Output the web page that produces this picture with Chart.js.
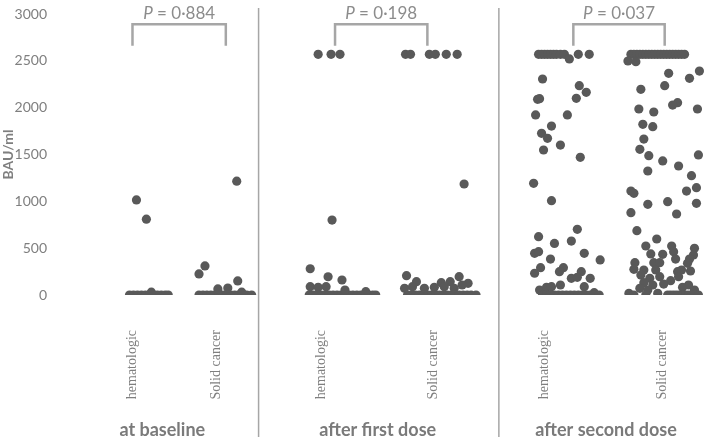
<!DOCTYPE html>
<html>
<head>
<meta charset="utf-8">
<script src="https://cdn.jsdelivr.net/npm/chart.js@4/dist/chart.umd.min.js"></script>
<style>
  html, body { margin: 0; padding: 0; background: #fff; }
  canvas { display: block; }
</style>
</head>
<body>
<canvas id="chart" width="709" height="442"></canvas>
<script>
// --- categories / groups ---
const categories = ["hematologic", "Solid cancer", "hematologic", "Solid cancer", "hematologic", "Solid cancer"];
const categoryX = [0.73, 1.57, 2.63, 3.76, 4.88, 6.07];
const groupTitles = ["at baseline", "after first dose", "after second dose"];
const groupTitleX = [1.03, 3.20, 5.50];
const separatorX = [2.00, 4.42];

// --- P value brackets ---
const pValues = ["0·884", "0·198", "0·037"];
const bracketFrom = [0.73, 2.77, 5.17];
const bracketTo = [1.67, 3.70, 6.09];
const bracketTop = 2890;
const bracketFoot = 2660;
const pLabelY = 3010;

// --- y axis ---
const yMin = 0;
const yMax = 3000;
const yStep = 500;

// --- points [x, BAU/ml] ---
const baseHem = [
  [0.70, 0], [0.74, 0], [0.78, 0], [0.82, 0], [0.86, 0], [0.90, 0], [0.94, 0], [0.98, 0],
  [1.02, 0], [1.06, 0], [1.09, 0], [0.92, 30], [0.77, 1015], [0.87, 810]
];
const baseSolid = [
  [1.40, 0], [1.44, 0], [1.48, 0], [1.52, 0], [1.56, 0], [1.60, 0], [1.64, 0], [1.68, 0],
  [1.72, 0], [1.76, 0], [1.80, 0], [1.84, 0], [1.88, 0], [1.93, 0],
  [1.78, 1215], [1.40, 225], [1.46, 310], [1.79, 150], [1.59, 65], [1.69, 75], [1.83, 30]
];
const firstHem = [
  [2.51, 0], [2.55, 0], [2.59, 0], [2.63, 0], [2.67, 0], [2.71, 0], [2.75, 0], [2.79, 0], [2.83, 0],
  [2.87, 0], [2.91, 0], [2.95, 0], [2.99, 0], [3.03, 0], [3.07, 0], [3.11, 0], [3.15, 0], [3.18, 0],
  [2.60, 2570], [2.73, 2570], [2.82, 2570], [2.74, 800],
  [2.52, 280], [2.70, 195], [2.84, 160],
  [2.52, 89], [2.60, 82], [2.68, 89], [2.87, 53], [3.08, 36]
];
const firstSolid = [
  [3.50, 0], [3.54, 0], [3.58, 0], [3.62, 0], [3.66, 0], [3.70, 0], [3.74, 0], [3.78, 0], [3.82, 0],
  [3.86, 0], [3.90, 0], [3.94, 0], [3.98, 0], [4.02, 0], [4.06, 0], [4.10, 0], [4.14, 0], [4.19, 0],
  [3.48, 2570], [3.53, 2570], [3.72, 2570], [3.78, 2570], [3.89, 2570], [4.00, 2570],
  [4.07, 1185],
  [3.49, 206], [3.59, 142], [3.84, 132], [3.93, 142], [4.02, 196], [4.11, 125],
  [3.47, 71], [3.55, 89], [3.67, 71], [3.77, 82], [3.87, 89], [3.97, 71], [4.05, 107]
];
const secondHem = [
  [4.82, 2570], [4.85, 2570], [4.88, 2570], [4.91, 2570], [4.94, 2570], [4.97, 2570], [5.00, 2570],
  [5.04, 2570], [5.08, 2570], [5.13, 2520], [5.22, 2570], [5.33, 2570],
  [4.86, 2306], [5.23, 2235], [5.30, 2164], [5.20, 2100], [4.81, 2089], [4.83, 2096],
  [4.79, 1922], [5.11, 1922], [4.95, 1804], [4.85, 1726], [4.91, 1673], [5.04, 1601],
  [4.87, 1548], [5.24, 1470], [4.77, 1192], [4.95, 1007], [5.21, 701], [4.82, 623],
  [5.15, 576], [4.98, 551], [4.78, 445], [4.82, 463], [5.28, 445], [4.94, 384], [5.44, 374],
  [4.84, 292], [4.78, 232], [5.07, 292], [5.03, 249], [5.25, 249], [5.15, 178], [5.21, 189],
  [5.34, 178], [5.04, 107], [5.28, 89], [4.83, 53], [4.90, 82], [4.95, 89], [5.38, 25],
  [4.86, 0], [4.90, 0], [4.94, 0], [4.98, 0], [5.02, 0], [5.06, 0], [5.10, 0], [5.14, 0],
  [5.18, 0], [5.22, 0], [5.26, 0], [5.30, 0], [5.34, 0], [5.38, 0], [5.43, 0]
];
const secondSolid = [
  [5.75, 2570], [5.78, 2570], [5.81, 2570], [5.84, 2570], [5.87, 2570], [5.90, 2570], [5.93, 2570],
  [5.96, 2570], [5.99, 2570], [6.02, 2570], [6.05, 2570], [6.08, 2570], [6.11, 2570], [6.14, 2570],
  [6.17, 2570], [6.20, 2570], [6.23, 2570], [6.26, 2570], [6.29, 2570], [5.72, 2498], [5.80, 2491],
  [6.44, 2391], [6.13, 2367], [6.34, 2313], [6.09, 2235], [5.85, 2196], [6.22, 2053], [6.17, 2028],
  [5.83, 1986], [5.98, 1954], [6.42, 1986], [5.87, 1822], [5.97, 1797], [5.88, 1665], [5.84, 1555],
  [5.93, 1487], [6.43, 1495], [6.07, 1431], [6.23, 1377], [5.92, 1324], [6.36, 1274], [5.75, 1110],
  [5.78, 1086], [6.31, 1110], [6.41, 1146], [5.92, 968], [6.12, 996], [6.41, 979], [5.75, 879],
  [6.21, 865], [5.81, 687], [6.01, 598], [5.90, 523], [6.16, 523], [6.39, 499], [5.95, 438],
  [6.18, 463], [6.07, 434], [6.38, 427], [6.20, 384], [6.34, 384], [5.79, 345], [5.98, 345],
  [6.04, 345], [6.32, 338], [5.78, 274], [5.88, 267], [6.00, 267], [6.35, 256], [6.22, 249],
  [6.26, 267], [5.85, 213], [5.94, 178], [6.04, 196], [6.15, 153], [5.88, 132], [6.23, 196],
  [5.97, 107], [6.08, 117], [6.33, 107], [5.84, 71], [5.92, 53], [6.27, 82], [6.39, 53],
  [5.73, 18], [5.78, 0], [5.90, 0], [6.02, 18],
  [6.12, 0], [6.15, 0], [6.18, 0], [6.21, 0], [6.24, 0], [6.27, 0], [6.30, 0], [6.33, 0],
  [6.36, 0], [6.39, 0], [6.43, 0]
];

const groups = [baseHem, baseSolid, firstHem, firstSolid, secondHem, secondSolid];

// --- brackets, P values, separators, group titles ---
const annotations = {
  id: "annotations",
  afterDraw(chart) {
    const { ctx, scales: { x, y }, height } = chart;
    ctx.save();

    ctx.strokeStyle = "#a6a6a6";
    ctx.lineWidth = 1.5;
    separatorX.forEach(v => {
      const px = x.getPixelForValue(v);
      ctx.beginPath();
      ctx.moveTo(px, 8);
      ctx.lineTo(px, height - 5);
      ctx.stroke();
    });

    ctx.lineWidth = 2.5;
    ctx.lineJoin = "miter";
    const yTop = y.getPixelForValue(bracketTop);
    const yFoot = y.getPixelForValue(bracketFoot);
    bracketFrom.forEach((from, i) => {
      const x1 = x.getPixelForValue(from);
      const x2 = x.getPixelForValue(bracketTo[i]);
      ctx.beginPath();
      ctx.moveTo(x1, yFoot);
      ctx.lineTo(x1, yTop);
      ctx.lineTo(x2, yTop);
      ctx.lineTo(x2, yFoot);
      ctx.stroke();

      // "P = 0·884" with italic P
      const italic = "italic 17px Lato";
      const normal = "17px Lato";
      const rest = " = " + pValues[i];
      ctx.font = italic;
      const wP = ctx.measureText("P").width;
      ctx.font = normal;
      const wRest = ctx.measureText(rest).width;
      const cx = (x1 + x2) / 2;
      const startX = cx - (wP + wRest) / 2;
      const ty = y.getPixelForValue(pLabelY);
      ctx.fillStyle = "#8c8c8c";
      ctx.textBaseline = "middle";
      ctx.textAlign = "left";
      ctx.font = italic;
      ctx.fillText("P", startX, ty);
      ctx.font = normal;
      ctx.fillText(rest, startX + wP, ty);
    });

    ctx.fillStyle = "#7a7a7a";
    ctx.font = "bold 18px Lato";
    ctx.textAlign = "center";
    ctx.textBaseline = "middle";
    groupTitles.forEach((t, i) => {
      ctx.fillText(t, x.getPixelForValue(groupTitleX[i]), height - 12);
    });

    ctx.restore();
  }
};

new Chart(document.getElementById("chart"), {
  type: "scatter",
  data: {
    datasets: groups.map((pts, i) => ({
      label: categories[i],
      data: pts.map(p => ({ x: p[0], y: p[1] })),
      backgroundColor: "#595959",
      borderWidth: 0,
      pointRadius: 4.6,
      pointHoverRadius: 4.6,
    })),
  },
  options: {
    responsive: false,
    animation: false,
    layout: { padding: { top: 14, right: 0, bottom: 0, left: 0 } },
    plugins: {
      legend: { display: false },
      tooltip: { enabled: false },
    },
    scales: {
      x: {
        type: "linear",
        min: 0,
        max: 6.49,
        grid: { display: false },
        border: { display: false },
        afterFit: scale => { scale.height = 147; },
        afterBuildTicks: scale => { scale.ticks = categoryX.map(v => ({ value: v })); },
        ticks: {
          autoSkip: false,
          minRotation: 90,
          maxRotation: 90,
          padding: 27,
          color: "#7f7f7f",
          font: { family: "'Liberation Serif', 'Times New Roman', serif", size: 14 },
          callback: (v, i) => categories[i],
        },
      },
      y: {
        min: yMin,
        max: yMax,
        grid: { display: false },
        border: { display: false },
        afterFit: scale => { scale.width = 60; },
        ticks: {
          stepSize: yStep,
          padding: 5,
          color: "#7f7f7f",
          font: { family: "Lato", size: 14 },
          callback: v => String(v),
        },
        title: {
          display: true,
          text: "BAU/ml",
          color: "#7f7f7f",
          padding: 0,
          font: { family: "Lato", size: 14, weight: "bold" },
        },
      },
    },
  },
  plugins: [annotations],
});
</script>
</body>
</html>
